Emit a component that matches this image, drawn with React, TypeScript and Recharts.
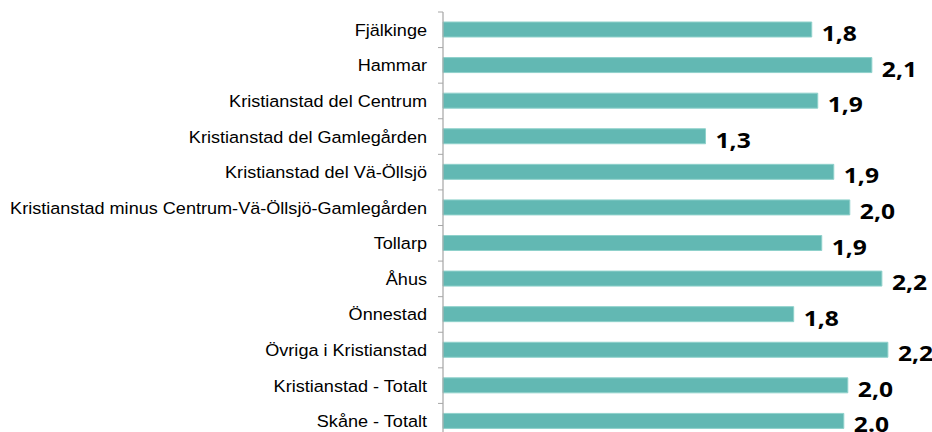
import { BarChart, Bar, XAxis, YAxis, CartesianGrid, LabelList } from "recharts";

const categories = [
  "Fjälkinge",
  "Hammar",
  "Kristianstad del Centrum",
  "Kristianstad del Gamlegården",
  "Kristianstad del Vä-Öllsjö",
  "Kristianstad minus Centrum-Vä-Öllsjö-Gamlegården",
  "Tollarp",
  "Åhus",
  "Önnestad",
  "Övriga i Kristianstad",
  "Kristianstad - Totalt",
  "Skåne - Totalt",
];

const values = [1.84, 2.14, 1.87, 1.31, 1.95, 2.03, 1.89, 2.19, 1.75, 2.22, 2.02, 2.0];

const valueLabels = ["1,8", "2,1", "1,9", "1,3", "1,9", "2,0", "1,9", "2,2", "1,8", "2,2", "2,0", "2.0"];

const xTicks = [0, 0.5, 1, 1.5, 2, 2.5];

const data = categories.map((name, i) => ({ name, value: values[i], label: valueLabels[i] }));

const STRETCH = 1.11;
const BAND = 427 / categories.length;

function CategoryTick(props: any) {
  const { x, y, payload, index } = props;
  return (
    <g>
      <text
        transform={`translate(${x},${y + 6}) scale(${STRETCH},1)`}
        textAnchor="end"
        fontFamily="'Liberation Sans', Arial, sans-serif"
        fontSize={16.3}
        fill="#000"
      >
        {payload.value}
      </text>
      <line x1={x + 11} x2={x + 16} y1={y - BAND / 2} y2={y - BAND / 2} stroke="#a6a6a6" />
      {index === categories.length - 1 && (
        <line x1={x + 11} x2={x + 16} y1={y + BAND / 2} y2={y + BAND / 2} stroke="#a6a6a6" />
      )}
    </g>
  );
}

function ValueLabel(props: any) {
  const { x, y, width, height, index } = props;
  return (
    <text
      transform={`translate(${x + width + 10},${y + height / 2 + 11.5}) scale(1.12,1)`}
      fontFamily="'Open Sans', sans-serif"
      fontWeight={700}
      fontSize={22}
      fill="#000"
    >
      {valueLabels[index]}
    </text>
  );
}

export default function App() {
  return (
    <div
      style={{
        position: "absolute",
        left: 0,
        top: 0,
        width: 932,
        height: 432,
        overflow: "hidden",
        background: "#fff",
      }}
    >
      <BarChart
        width={960}
        height={469}
        data={data}
        layout="vertical"
        margin={{ top: 12, right: 16, bottom: 0, left: 0 }}
      >
        <CartesianGrid horizontal={false} stroke="#d9d9d9" />
        <XAxis type="number" domain={[0, 2.5]} ticks={xTicks} height={30} axisLine={false} tickLine={false} tick={false} />
        <YAxis
          type="category"
          dataKey="name"
          width={443}
          tickSize={5}
          tickMargin={11}
          tickLine={false}
          axisLine={{ stroke: "#a6a6a6" }}
          tick={<CategoryTick />}
          interval={0}
        />
        <Bar dataKey="value" fill="#62b8b3" stroke="#8fd1cb" strokeWidth={1} barSize={15} isAnimationActive={false}>
          <LabelList dataKey="label" content={<ValueLabel />} />
        </Bar>
      </BarChart>
    </div>
  );
}
